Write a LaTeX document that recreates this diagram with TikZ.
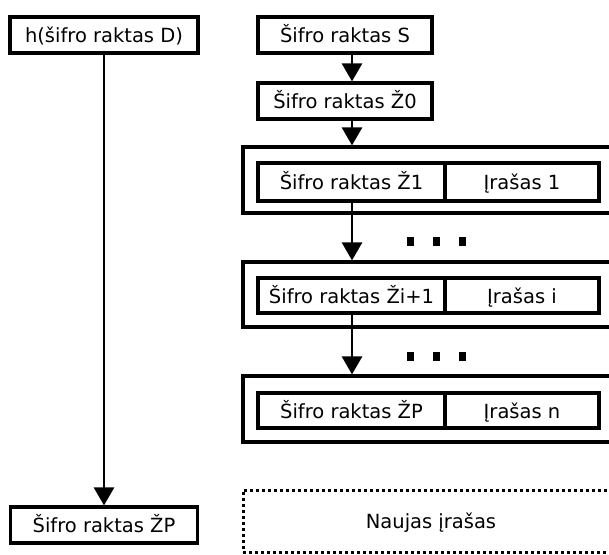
\documentclass[tikz,border=0pt]{standalone}
\usepackage{fontspec}
\setmainfont{DejaVu Sans}
\usetikzlibrary{arrows.meta}
\tikzset{
  box/.style={draw, line width=3.2pt, fill=white, inner sep=0pt, text height=16pt, text depth=1pt, font=\fontsize{19.5}{23}\selectfont},
  frame/.style={draw, line width=3.2pt, inner sep=0pt},
  link/.style={line width=2.8pt, -{Triangle[width=20pt,length=18pt]}},
  dotmark/.style={fill=black, inner sep=0pt, minimum width=7pt, minimum height=9pt},
  newbox/.style={draw, line width=3pt, dash pattern=on 3pt off 3pt, inner sep=0pt, text height=16pt, text depth=1pt, font=\fontsize{19.5}{23}\selectfont}
}
\begin{document}
\begin{tikzpicture}[x=1pt,y=-1pt]
\fill[white] (0,0) rectangle (609,554);
\clip (0,0) rectangle (609,554);

% left column: hash of key D and its result
\node[box, minimum width=188pt, minimum height=36pt] (hD) at (104,35) {h(šifro raktas D)};
\node[box, minimum width=187pt, minimum height=36pt] (zpL) at (104,525) {Šifro raktas ŽP};

% right column: key chain
\node[box, minimum width=174pt, minimum height=36pt] (S) at (345,35) {Šifro raktas S};
\node[box, minimum width=174pt, minimum height=36pt] (Z0) at (345,101) {Šifro raktas Ž0};

% record frames
\node[frame, minimum width=380pt, minimum height=66pt] (o1) at (433,180) {};
\node[frame, minimum width=380pt, minimum height=65pt] (o2) at (433,294.5) {};
\node[frame, minimum width=380pt, minimum height=66pt] (o3) at (433,409) {};

% key / record cells
\node[box, minimum width=187pt, minimum height=38pt] (k1) at (351.5,182) {Šifro raktas Ž1};
\node[box, minimum width=154pt, minimum height=38pt] (r1) at (522,182) {Įrašas 1};
\node[box, minimum width=187pt, minimum height=35pt] (k2) at (351.5,295.5) {Šifro raktas Ži+1};
\node[box, minimum width=154pt, minimum height=35pt] (r2) at (522,295.5) {Įrašas i};
\node[box, minimum width=187pt, minimum height=35pt] (k3) at (351.5,410.5) {Šifro raktas ŽP};
\node[box, minimum width=154pt, minimum height=35pt] (r3) at (522,410.5) {Įrašas n};

% ellipsis marks
\node[dotmark] (e1a) at (410,241) {};
\node[dotmark] (e1b) at (436,241) {};
\node[dotmark] (e1c) at (462,241) {};
\node[dotmark] (e2a) at (410,356) {};
\node[dotmark] (e2b) at (436,356) {};
\node[dotmark] (e2c) at (462,356) {};

% new record placeholder
\node[newbox, minimum width=376pt, minimum height=62pt] (nw) at (431,521) {Naujas įrašas};

% connectors
\draw[link] (hD.south) -- (zpL.north);
\draw[link] (S.south -| 352,0) -- (Z0.north -| 352,0);
\draw[link] (Z0.south -| 352,0) -- (o1.north -| 352,0);
\draw[link] (k1.south -| 352,0) -- (o2.north -| 352,0);
\draw[link] (k2.south -| 352,0) -- (o3.north -| 352,0);
\end{tikzpicture}
\end{document}
